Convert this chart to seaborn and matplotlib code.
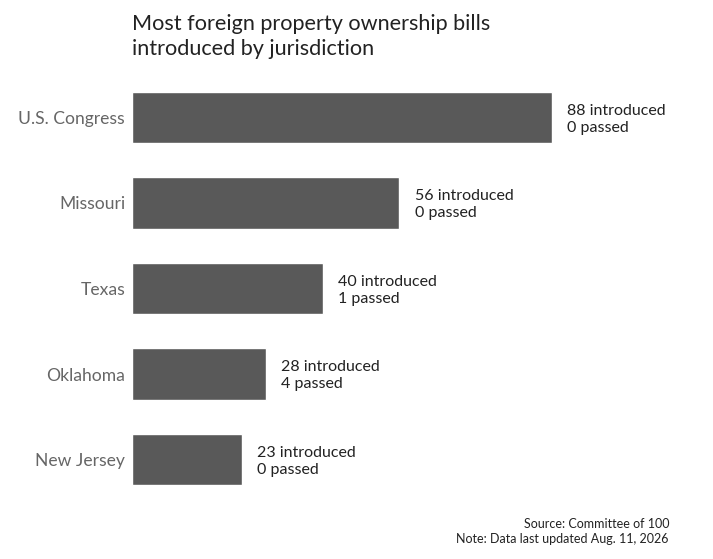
import matplotlib.pyplot as plt
import seaborn as sns
import pandas as pd

jurisdictions = ['U.S. Congress', 'Missouri', 'Texas', 'Oklahoma', 'New Jersey']
introduced = [88, 56, 40, 28, 23]
passed = [0, 0, 1, 4, 0]

df = pd.DataFrame({'jurisdiction': jurisdictions, 'introduced': introduced, 'passed': passed})

sns.set_style('white')
plt.rcParams['font.family'] = ['Lato', 'DejaVu Sans']

fig = plt.figure(figsize=(7.13, 5.59), dpi=100)
ax = fig.add_axes([132 / 713, 0.1015, 477.3 / 713, 0.7648])

sns.barplot(data=df, x='introduced', y='jurisdiction', orient='h', color='#595959',
            width=0.6, saturation=1, ax=ax)

# two-line labels to the right of each bar
for i, row in df.iterrows():
    ax.text(row['introduced'] + 3.2, i + 0.02, f"{row['introduced']} introduced\n{row['passed']} passed",
            va='center', ha='left', fontsize=11.5, color='#222222', linespacing=1.3)

ax.set_xlim(0, 100)
ax.set_ylim(4.5, -0.5)
ax.set_xlabel('')
ax.set_ylabel('')
ax.set_xticks([])
ax.tick_params(axis='y', length=0, pad=5, labelsize=12.6, labelcolor='#666666')
sns.despine(ax=ax, left=True, bottom=True, top=True, right=True)

fig.text(132 / 713, 1 - 14 / 559, 'Most foreign property ownership bills\nintroduced by jurisdiction',
         ha='left', va='top', fontsize=15.6, color='#222222', linespacing=1.32)

fig.text(669 / 713, 1 - 545 / 559, 'Source: Committee of 100\nNote: Data last updated Aug. 11, 2026',
         ha='right', va='bottom', fontsize=9, color='#222222', linespacing=1.3)

fig.savefig('out.png', dpi=100)
plt.close(fig)
